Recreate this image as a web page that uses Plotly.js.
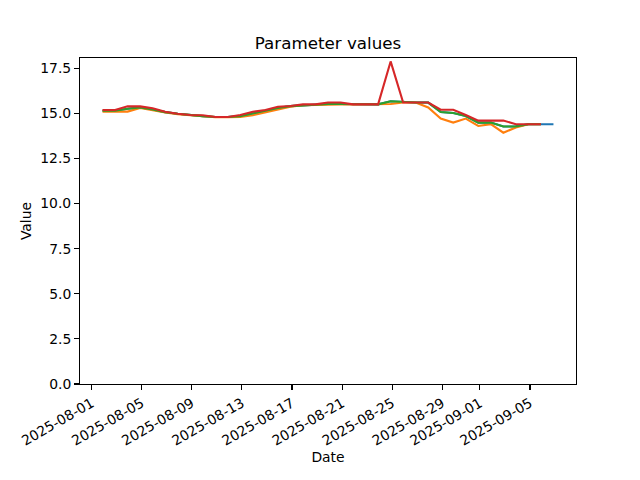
<!DOCTYPE html>
<html>
<head>
<meta charset="utf-8">
<script src="https://cdn.plot.ly/plotly-3.0.1.min.js"></script>
<style>html,body{margin:0;padding:0;background:#fff;}#chart{width:640px;height:480px;}</style>
</head>
<body>
<div id="chart"></div>
<script>
const dates = [
  "2025-08-01 21:00","2025-08-02 21:00","2025-08-03 21:00","2025-08-04 21:00","2025-08-05 21:00",
  "2025-08-06 21:00","2025-08-07 21:00","2025-08-08 21:00","2025-08-09 21:00","2025-08-10 21:00",
  "2025-08-11 21:00","2025-08-12 21:00","2025-08-13 21:00","2025-08-14 21:00","2025-08-15 21:00",
  "2025-08-16 21:00","2025-08-17 21:00","2025-08-18 21:00","2025-08-19 21:00","2025-08-20 21:00",
  "2025-08-21 21:00","2025-08-22 21:00","2025-08-23 21:00","2025-08-24 21:00","2025-08-25 21:00",
  "2025-08-26 21:00","2025-08-27 21:00","2025-08-28 21:00","2025-08-29 21:00","2025-08-30 21:00",
  "2025-08-31 21:00","2025-09-01 21:00","2025-09-02 21:00","2025-09-03 21:00","2025-09-04 21:00",
  "2025-09-05 21:00","2025-09-06 21:00"
];
const seriesBlue = [15.15,15.15,15.26,15.33,15.22,15.07,14.98,14.90,14.85,14.80,14.80,14.85,15.00,15.15,15.30,15.40,15.45,15.50,15.52,15.52,15.50,15.50,15.50,15.67,15.62,15.60,15.60,15.08,15.02,14.85,14.49,14.49,14.27,14.28,14.40,14.40,14.40];
const seriesOrange = [15.10,15.10,15.10,15.30,15.17,15.05,14.96,14.90,14.84,14.79,14.79,14.80,14.90,15.07,15.20,15.37,15.45,15.48,15.50,15.50,15.50,15.50,15.50,15.52,15.60,15.60,15.33,14.71,14.49,14.71,14.30,14.40,13.93,14.22,14.40,14.40];
const seriesGreen = [15.15,15.15,15.26,15.33,15.22,15.07,14.98,14.90,14.85,14.80,14.80,14.85,15.00,15.15,15.30,15.40,15.45,15.50,15.52,15.52,15.50,15.50,15.50,15.67,15.62,15.60,15.60,15.08,15.02,14.85,14.49,14.49,14.27,14.28,14.40,14.40];
const seriesRed = [15.19,15.19,15.39,15.39,15.28,15.09,14.98,14.91,14.90,14.80,14.80,14.91,15.09,15.19,15.37,15.41,15.50,15.50,15.60,15.60,15.50,15.50,15.50,17.88,15.60,15.60,15.60,15.20,15.20,14.91,14.60,14.60,14.60,14.40,14.40,14.40];
const xTickVals = ["2025-08-01","2025-08-05","2025-08-09","2025-08-13","2025-08-17","2025-08-21","2025-08-25","2025-08-29","2025-09-01","2025-09-05"];
const xTickText = ["2025-08-01","2025-08-05","2025-08-09","2025-08-13","2025-08-17","2025-08-21","2025-08-25","2025-08-29","2025-09-01","2025-09-05"];
const yTickVals = [0,2.5,5,7.5,10,12.5,15,17.5];

const colors = ["#1f77b4","#ff7f0e","#2ca02c","#d62728"];
const all = [seriesBlue, seriesOrange, seriesGreen, seriesRed];
const traces = all.map((s,i)=>({
  type:"scatter", mode:"lines",
  x: dates.slice(0, s.length), y: s,
  line:{color:colors[i], width:2.1},
  showlegend:false, hoverinfo:"skip"
}));

const font = {family:"DejaVu Sans, sans-serif", size:13.9, color:"#000"};
const layout = {
  width:640, height:480,
  paper_bgcolor:"#fff", plot_bgcolor:"#fff",
  margin:{l:80, r:64, t:58, b:96, pad:0},
  font: font,
  showlegend:false,
  title:{text:"Parameter values", font:{family:"DejaVu Sans, sans-serif", size:16.7, color:"#000"},
         x:0.5, xref:"paper", xanchor:"center", y:1, yref:"paper", yanchor:"bottom", pad:{b:9}},
  xaxis:{
    type:"date",
    range:["2025-07-31 01:48","2025-09-08 16:12"],
    tickmode:"array", tickvals:xTickVals, ticktext:xTickText,
    tickangle:-30, ticks:"outside", ticklen:4.9, tickwidth:1.1, tickcolor:"#000",
    showgrid:false, zeroline:false,
    showline:true, linecolor:"#000", linewidth:1.1, mirror:true,
    tickfont:font,
    title:{text:"Date", font:font, standoff:4},
    automargin:false
  },
  yaxis:{
    range:[0,18.07],
    tickmode:"array", tickvals:yTickVals, ticktext:yTickVals.map(v=>v.toFixed(1)),
    ticks:"outside", ticklen:4.9, tickwidth:1.1, tickcolor:"#000",
    showgrid:false, zeroline:false,
    showline:true, linecolor:"#000", linewidth:1.1, mirror:true,
    tickfont:font,
    title:{text:"Value", font:font, standoff:5},
    automargin:false
  }
};
Plotly.newPlot("chart", traces, layout, {staticPlot:true, displayModeBar:false});
</script>
</body>
</html>
